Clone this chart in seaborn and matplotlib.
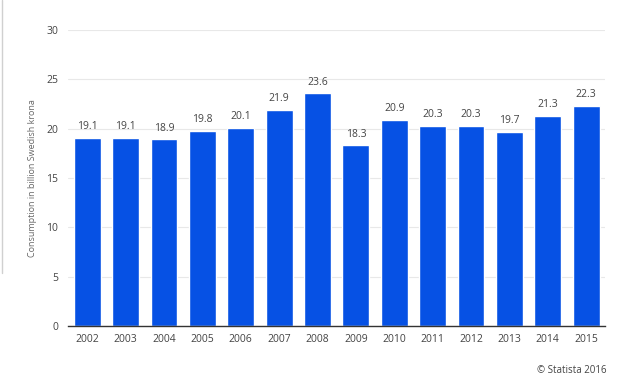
import pandas as pd
import seaborn as sns
import matplotlib.pyplot as plt
from matplotlib.lines import Line2D

sns.set_style("white")
plt.rcParams['font.family'] = ['Open Sans', 'DejaVu Sans']

# values
years = ["2002", "2003", "2004", "2005", "2006", "2007", "2008",
         "2009", "2010", "2011", "2012", "2013", "2014", "2015"]
consumption = [19.1, 19.1, 18.9, 19.8, 20.1, 21.9, 23.6,
               18.3, 20.9, 20.3, 20.3, 19.7, 21.3, 22.3]

df = pd.DataFrame({"year": years, "value": consumption})

fig = plt.figure(figsize=(6.24, 3.84), dpi=100)
ax = fig.add_axes([0.109, 0.151, 0.861, 0.771])

sns.barplot(data=df, x="year", y="value", color="#0651e4", saturation=1,
            width=0.7, ax=ax)

ax.set_ylim(0, 30)
ax.set_yticks(range(0, 31, 5))
ax.grid(axis="y", color="#e8e8e8", linewidth=0.8)
ax.set_axisbelow(True)
for side in ["left", "right", "top"]:
    ax.spines[side].set_visible(False)
ax.spines["bottom"].set_color("#333333")
ax.spines["bottom"].set_linewidth(1)
ax.tick_params(axis="both", length=0, labelsize=7.5, labelcolor="#444444")
ax.tick_params(axis="y", pad=7)
ax.tick_params(axis="x", pad=6)
ax.set_xlabel("")
ax.set_ylabel("Consumption in billion Swedish krona", fontsize=6.5,
              color="#666666", labelpad=7)

for container in ax.containers:
    ax.bar_label(container, fmt="%.1f", padding=4, fontsize=7.5, color="#444444")

fig.text(0.972, 0.035, "© Statista 2016", ha="right", va="center",
         fontsize=7, color="#444444")

# faint frame line at left edge
fig.add_artist(Line2D([0.004, 0.004], [0.29, 1.0], color="#d0d0d0",
                      linewidth=1, transform=fig.transFigure))

fig.savefig("out.png", dpi=100)
